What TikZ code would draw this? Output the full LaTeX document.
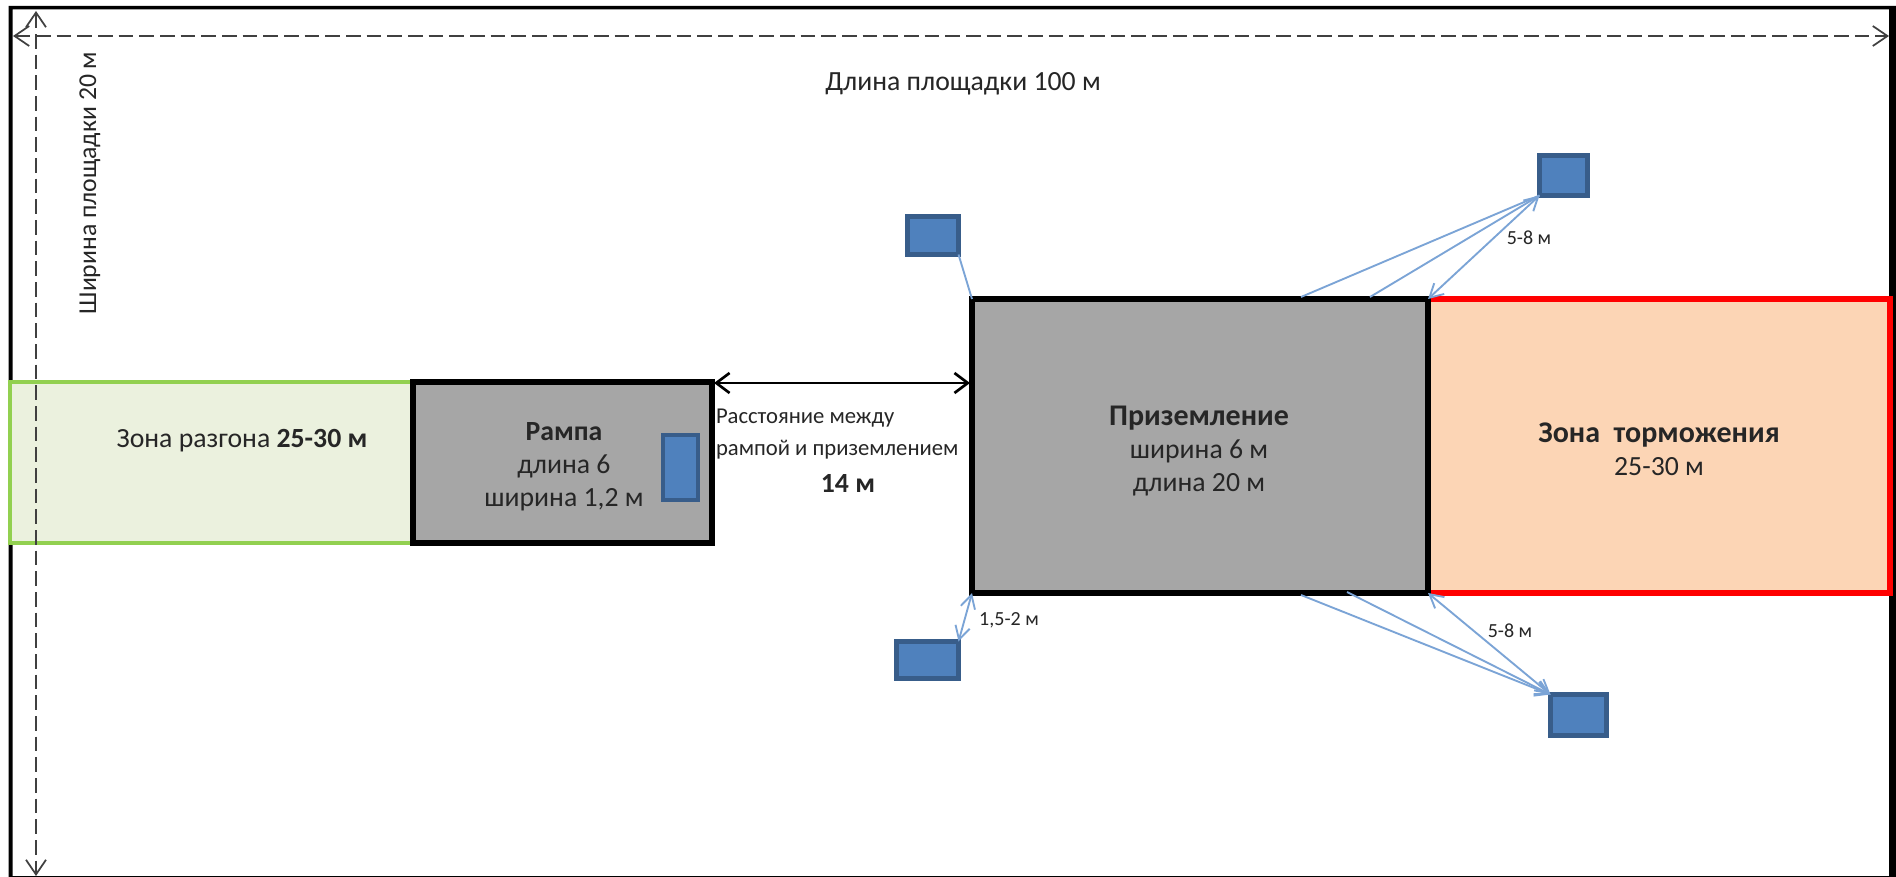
\documentclass[tikz,border=0pt]{standalone}
\usepackage{fontspec}
\setmainfont{Carlito}
\usetikzlibrary{arrows.meta,fit}
\definecolor{bluefill}{HTML}{4F81BD}
\definecolor{blueedge}{HTML}{385D8A}
\definecolor{bluelink}{HTML}{7BA4D6}
\definecolor{greenfill}{HTML}{EBF1DE}
\definecolor{greenedge}{HTML}{92D050}
\definecolor{brakefill}{HTML}{FCD5B5}
\definecolor{zonegray}{HTML}{A6A6A6}
\definecolor{dimgray}{HTML}{404040}
\newcommand{\bighead}[1]{{\fontsize{22.5}{24.75}\selectfont\bfseries #1}}
\tikzset{
  area/.style={inner sep=0pt,outer sep=0pt,line width=3.8pt,line join=miter},
  blackzone/.style={area,draw=black,fill=zonegray},
  greenzone/.style={area,draw=greenedge,fill=greenfill,line width=2.8pt},
  redzone/.style={area,draw=red,fill=brakefill},
  judge/.style={inner sep=0pt,outer sep=0pt,draw=blueedge,fill=bluefill,line width=3.6pt},
  dimline/.style={draw=dimgray,line width=1.3pt,dash pattern=on 11pt off 4.5pt,{Straight Barb[length=11pt,width=15pt]}-{Straight Barb[length=11pt,width=15pt]}},
  gapline/.style={draw=black,line width=2pt,{Straight Barb[length=10pt,width=15pt]}-{Straight Barb[length=10pt,width=15pt]}},
  link/.style={draw=bluelink,line width=1.4pt},
  tiplink/.style={link,-{Straight Barb[length=10pt,width=11pt]}},
  twolink/.style={link,{Straight Barb[length=10pt,width=11pt]}-{Straight Barb[length=10pt,width=11pt]}},
  txt/.style={inner sep=0pt,outer sep=0pt,text=black!85,font=\fontsize{20.8}{24.75}\selectfont,align=center},
  small/.style={inner sep=0pt,outer sep=0pt,text=black!85,font=\fontsize{15}{17}\selectfont},
}
\begin{document}
\begin{tikzpicture}[x=0.75pt,y=-0.75pt]
\useasboundingbox (0,0) rectangle (1896,877);
\fill[white] (0,0) rectangle (1896,877);
\fill[black,even odd rule] (8.5,6) rectangle (1896,877) (12.5,9.5) rectangle (1889,876);

\node[greenzone,fit={(10,382)(413,543)}] (accel) {};
\node[redzone,fit={(1428,299)(1890,593)}] (brake) {};
\node[blackzone,fit={(413,382)(712,543)}] (ramp) {};
\node[blackzone,fit={(972,299)(1428,593)}] (land) {};

\node[judge,fit={(663,435)(698,500)}] (rjudge) {};
\node[judge,fit={(907.5,216.5)(958.5,254.5)}] (jtl) {};
\node[judge,fit={(1539.5,155.5)(1587.5,195.5)}] (jtr) {};
\node[judge,fit={(896.5,641.5)(958.5,678.5)}] (jbl) {};
\node[judge,fit={(1550.5,694.5)(1606.5,735.5)}] (jbr) {};

\coordinate (tA) at (1301,297);
\coordinate (tB) at (1370,297);
\coordinate (bA) at (1301,595);
\coordinate (bB) at (1347,592);
\coordinate (gapL) at (714,383);
\coordinate (gapR) at (970,383);
\coordinate (hL) at (13,36);
\coordinate (hR) at (1889,36);
\coordinate (vT) at (36,11);
\coordinate (vB) at (36,876);

\draw[link] (jtr.south west) -- (tA);
\draw[link] (jtr.south west) -- (tB);
\draw[twolink] (jtr.south west) -- (land.north east);
\draw[link] (jtl.south east) -- (land.north west);
\draw[twolink] (land.south west) -- (jbl.north east);
\draw[tiplink] (bA) -- (jbr.north west);
\draw[tiplink] (bB) -- (jbr.north west);
\draw[twolink] (land.south east) -- (jbr.north west);
\draw[gapline] (gapL) -- (gapR);
\draw[dimline] (hL) -- (hR);
\draw[dimline] (vT) -- (vB);

\node[txt] (plen) at (963,84) {Длина площадки 100 м};
\node[txt,rotate=90,font=\fontsize{19.3}{24}\selectfont] (pwid) at (90,183) {Ширина площадки 20 м};
\node[txt] (taccel) at (242,441) {Зона разгона \textbf{25-30 м}};
\node[txt] (tramp) at (564,467) {\textbf{Рампа}\\длина 6\\ширина 1,2 м};
\node[txt,align=left,anchor=west,font=\fontsize{17}{24}\selectfont] (tgap) at (716,434) {Расстояние между\\рампой и приземлением};
\node[txt] (tgapv) at (848,483) {\textbf{14 м}};
\node[txt] (tland) at (1199,451) {\bighead{Приземление}\\ширина 6 м\\длина 20 м};
\node[txt] (tbrake) at (1659,449) {\bighead{Зона\ \ торможения}\\25-30 м};
\node[small] (d1) at (1529,238) {5-8 м};
\node[small] (d2) at (1510,631) {5-8 м};
\node[small] (d3) at (1009,620) {1,5-2 м};
\end{tikzpicture}
\end{document}
